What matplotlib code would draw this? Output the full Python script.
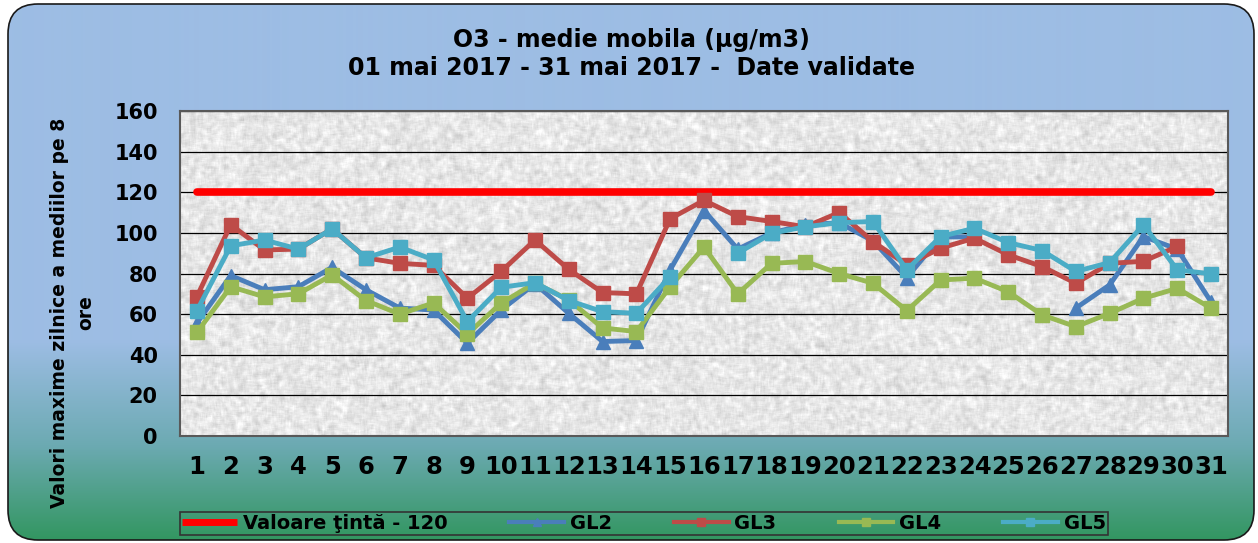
import numpy as np
import matplotlib
matplotlib.use("Agg")
import matplotlib.pyplot as plt
from matplotlib.patches import FancyBboxPatch
from matplotlib.lines import Line2D

# ---------------- data ----------------
days = list(range(1, 32))
tick_labels = [str(d) for d in days]
target_value = 120
nan = np.nan
gl2 = [55.6, 79, 72, 73.5, 83, 72, 63, 62, 45.7, 62, 75, 60.4, 46.5, 47, 81.8,
       111, 92, 100, 104, 105, 96, 78, 98, 98, nan, nan, 63, 74.4, 98.2, 92, 66]
gl3 = [68.6, 104, 91.6, 92, 102, 87.7, 85, 84, 67.8, 81, 96.5, 82, 70.6, 70, 107,
       116, 108, 105.6, 103, 110, 95.7, 84.2, 92.5, 97.4, 89.2, 83.4, 75.2, 85, 86, 93.3, nan]
gl4 = [51, 73.5, 68.5, 70, 79.3, 66.7, 60, 65.5, 50.2, 65.4, 75.3, 67, 53.2, 51.4, 73.5,
       93, 70, 85, 85.9, 80, 75.2, 61.7, 76.8, 77.7, 71, 59.6, 53.8, 60.4, 67.8, 72.7, 62.9]
gl5 = [61.7, 93.6, 96.5, 92, 102, 87.7, 93, 86.7, 56.3, 73.2, 75.5, 66.7, 61.2, 60.4, 78.5,
       nan, 90, 99.8, 103, 105, 105.6, 81.8, 98.2, 102.3, 95.2, 91.3, 81, 85.4, 104, 81.8, 79.8]
series_names = ["GL2", "GL3", "GL4", "GL5"]
target_label = "Valoare ţintă - 120"
title1 = "O3 - medie mobila (µg/m3)"
title2 = "01 mai 2017 - 31 mai 2017 -  Date validate"
ylabel = "Valori maxime zilnice a mediilor pe 8\nore"

# ---------------- figure ----------------
W, H = 1258, 543
plt.rcParams['font.family'] = ['DejaVu Sans']
plt.rcParams['font.weight'] = 'bold'
fig = plt.figure(figsize=(W / 100, H / 100), dpi=100)
fig.patch.set_facecolor('white')

# background rounded panel with vertical gradient
bg = fig.add_axes([0, 0, 1, 1], zorder=-5)
bg.set_xlim(0, W)
bg.set_ylim(H, 0)
bg.axis('off')
ys = np.arange(H)
stops_y = [0, 340, 445, 540]
cols = np.array([[157, 189, 228], [157, 189, 228], [108, 170, 178], [50, 150, 96]]) / 255.0
grad = np.stack([np.interp(ys, stops_y, cols[:, i]) for i in range(3)], axis=1)
img = np.repeat(grad[:, None, :], 2, axis=1)
im = bg.imshow(img, extent=[0, W, H, 0], aspect='auto', interpolation='bilinear')
box = FancyBboxPatch((8, 4), 1246, 536, boxstyle="round,pad=0,rounding_size=30",
                     fc='none', ec='#1a1a1a', lw=1.2)
bg.add_patch(box)
im.set_clip_path(box)

# plot area with a light granite-like texture (deterministic integer hash)
ax = fig.add_axes([180 / W, 1 - 436 / H, 1048 / W, 325 / H])
ny, nx = 325, 1048
idx = np.arange(ny * nx, dtype=np.uint64)
M = np.uint64(0xFFFFFFFF)
hsh = (idx * np.uint64(2654435761)) & M
hsh ^= hsh >> np.uint64(16)
hsh = (hsh * np.uint64(0x85EBCA6B)) & M
hsh ^= hsh >> np.uint64(13)
hsh = (hsh * np.uint64(0xC2B2AE35)) & M
hsh ^= hsh >> np.uint64(16)
n = (hsh & np.uint64(0xFFFF)).astype(float).reshape(ny, nx) / 65535.0
ns = np.zeros_like(n)
for dy in (-2, -1, 0, 1, 2):
    for dx in (-2, -1, 0, 1, 2):
        ns += np.roll(np.roll(n, dy, 0), dx, 1)
ns /= 25.0
tex = np.clip(0.905 + 0.55 * (ns - 0.5), 0, 1)
ax.imshow(tex, cmap='gray', vmin=0, vmax=1, extent=[0.5, 31.5, 0, 160],
          aspect='auto', zorder=0, interpolation='bilinear')
ax.set_xlim(0.5, 31.5)
ax.set_ylim(0, 160)
yticks = list(range(0, 161, 20))
for yv in yticks:
    ax.axhline(yv, color='black', lw=0.9, zorder=1)

ax.plot(days, [target_value] * len(days), color='#ff0000', lw=5.5,
        solid_capstyle='round', zorder=3)
colors = ['#4a7ebb', '#be4b48', '#98b954', '#4bacc6']
markers = ['^', 's', 's', 's']
for vals, c, m in zip([gl2, gl3, gl4, gl5], colors, markers):
    ax.plot(days, vals, color=c, lw=3.5, marker=m, ms=10, zorder=4)

ax.set_yticks(yticks)
ax.set_xticks(days)
ax.set_xticklabels(tick_labels)
ax.tick_params(axis='y', length=0, pad=16, labelsize=15)
ax.tick_params(axis='x', length=0, pad=14, labelsize=17.5)
for s in ax.spines.values():
    s.set_color('#595959')
    s.set_linewidth(1.5)

# titles / labels
fig.text(631 / W, 1 - 40 / H, title1, ha='center', va='center', fontsize=17, weight='bold')
fig.text(631 / W, 1 - 68 / H, title2, ha='center', va='center', fontsize=17, weight='bold')
fig.text(73 / W, 1 - 313 / H, ylabel, rotation=90, ha='center', va='center',
         fontsize=13.5, weight='bold', linespacing=1.5, multialignment='center')

# legend
handles = [Line2D([], [], color='#ff0000', lw=5, solid_capstyle='butt')]
for c, m in zip(colors, markers):
    handles.append(Line2D([], [], color=c, lw=3, marker=m, ms=6))
labels = [target_label] + series_names
leg = fig.legend(handles, labels, loc='center', bbox_to_anchor=(644 / W, 1 - 523.5 / H),
                 ncol=5, frameon=True, fancybox=False,
                 borderpad=0.1, borderaxespad=0, handlelength=2.8,
                 columnspacing=3.2, handletextpad=0.3, fontsize=14)
frame = leg.get_frame()
frame.set_alpha(None)
frame.set_facecolor('none')
frame.set_edgecolor('#333333')
frame.set_linewidth(1.2)

fig.savefig('out.png', dpi=100)
